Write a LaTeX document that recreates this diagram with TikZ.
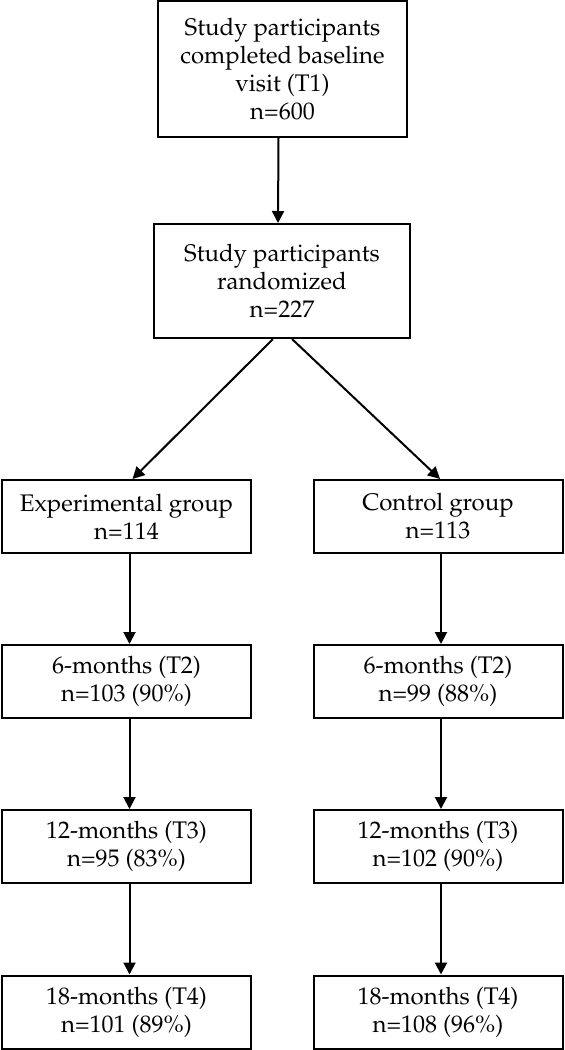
\documentclass[tikz,border=0pt]{standalone}
\usepackage[T1]{fontenc}
\usepackage{mathpazo}
\usetikzlibrary{arrows.meta}

\begin{document}
\begin{tikzpicture}[
        % 全局樣式設定 (1 單位 = 0.5pt, y 向下)
        x=0.5pt, y=-0.5pt,
        % 方框樣式:黑框白底
        stage_box/.style={
            draw=black,
            fill=white,
            line width=1pt,
            align=center,
            inner sep=0pt,
            font=\fontsize{12}{14}\selectfont
        },
        % 組別方框:寬度固定
        group_box/.style={
            stage_box,
            minimum width=124.5pt,
            minimum height=36.5pt
        },
        % 箭頭樣式
        flow_arrow/.style={
            draw=black,
            line width=1pt,
            -{Triangle[length=6pt,width=6pt]}
        }
    ]
        \useasboundingbox (0,0) rectangle (564,1050);

        % ==========================
        % 上方:基線與隨機分組
        % ==========================
        \node[stage_box, minimum width=124.5pt, minimum height=68pt] (t1) at (282.5,69)
            {Study participants\\completed baseline\\visit (T1)\\n=600};
        \node[stage_box, minimum width=128pt, minimum height=57pt] (rand) at (282,281)
            {Study participants\\randomized\\n=227};

        % ==========================
        % 左欄:Experimental group
        % ==========================
        \node[group_box] (exp)   at (126.5,516.5)  {Experimental group\\n=114};
        \node[group_box] (exp6)  at (126.5,681.5)  {6-months (T2)\\n=103 (90\%)};
        \node[group_box] (exp12) at (126.5,846.5)  {12-months (T3)\\n=95 (83\%)};
        \node[group_box] (exp18) at (126.5,1012)   {18-months (T4)\\n=101 (89\%)};

        % ==========================
        % 右欄:Control group
        % ==========================
        \node[group_box] (ctl)   at (438,516.5)  {Control group\\n=113};
        \node[group_box] (ctl6)  at (438,681.5)  {6-months (T2)\\n=99 (88\%)};
        \node[group_box] (ctl12) at (438,846.5)  {12-months (T3)\\n=102 (90\%)};
        \node[group_box] (ctl18) at (438,1012)   {18-months (T4)\\n=108 (96\%)};

        % ==========================
        % 箭頭
        % ==========================
        \draw[flow_arrow] ([xshift=-2pt]t1.south) -- ([xshift=-2pt]rand.north);
        \draw[flow_arrow] ([xshift=-4.5pt]rand.south) -- ([xshift=3pt]exp.north);
        \draw[flow_arrow] ([xshift=5pt]rand.south) -- ([xshift=1pt]ctl.north);
        \foreach \a/\b in {exp/exp6, exp6/exp12, exp12/exp18, ctl/ctl6, ctl6/ctl12, ctl12/ctl18} {
            \draw[flow_arrow] ([xshift=1.5pt]\a.south) -- ([xshift=1.5pt]\b.north);
        }

\end{tikzpicture}
\end{document}
